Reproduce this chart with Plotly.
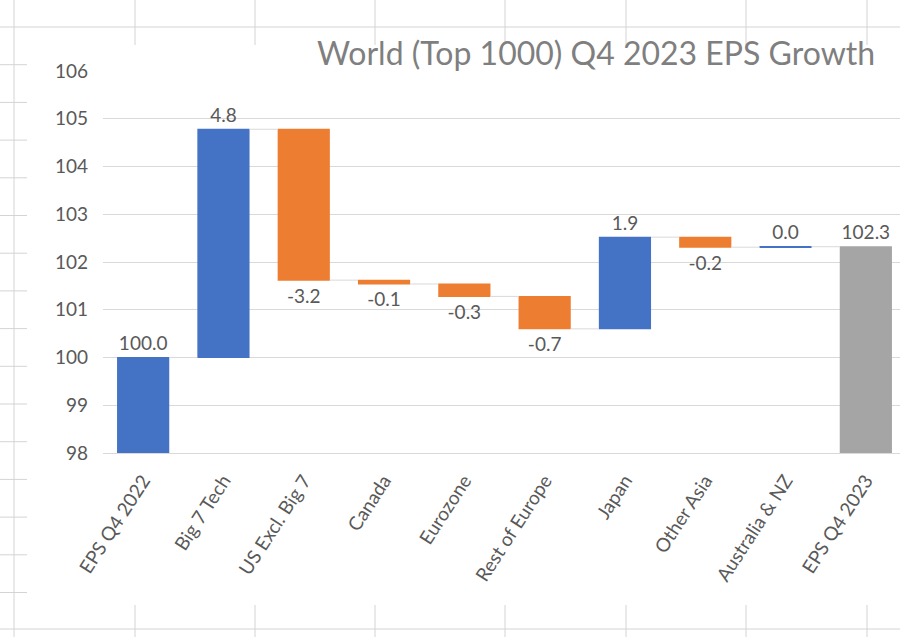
import plotly.graph_objects as go

# EPS bridge: Q4 2022 level, regional contributions, Q4 2023 level
categories = ["EPS Q4 2022", "Big 7 Tech", "US Excl. Big 7", "Canada", "Eurozone",
              "Rest of Europe", "Japan", "Other Asia", "Australia & NZ", "EPS Q4 2023"]
start_value = 100.0
contributions = [4.78, -3.16, -0.08, -0.26, -0.68, 1.92, -0.21, 0.01]

end_value = start_value + sum(contributions)
values = [start_value] + contributions + [end_value]
measures = ["relative"] * (len(values) - 1) + ["total"]
labels = [f"{v:.1f}" for v in values]

y_ticks = [98, 99, 100, 101, 102, 103, 104, 105, 106]

BLUE = "#4472C4"
ORANGE = "#ED7D31"
GREY = "#A5A5A5"
GRID = "#d9d9d9"
SHEET = "#d4d4d4"
FONT = "Lato"

W, H = 900, 637
ML, MR, MT, MB = 103, 0, 71, 184
PW, PH = W - ML - MR, H - MT - MB

fig = go.Figure(go.Waterfall(
    x=categories,
    y=values,
    measure=measures,
    text=labels,
    textposition="outside",
    textfont=dict(family=FONT, size=19, color="#595959"),
    cliponaxis=False,
    increasing=dict(marker=dict(color=BLUE)),
    decreasing=dict(marker=dict(color=ORANGE)),
    totals=dict(marker=dict(color=GREY)),
    connector=dict(mode="between", line=dict(color=GRID, width=1)),
    hoverinfo="skip",
))


# spreadsheet cell borders around the embedded chart box
def px_x(px):
    return (px - ML) / PW


def px_y(py):
    return (H - MB - py) / PH


shapes = []


def sheet_line(x0, y0, x1, y1):
    shapes.append(dict(type="line", xref="paper", yref="paper",
                       x0=px_x(x0), y0=px_y(y0), x1=px_x(x1), y1=px_y(y1),
                       line=dict(color=SHEET, width=1), layer="below"))


sheet_line(14, 0, 14, H)
sheet_line(0, 27, W, 27)
sheet_line(0, 629, W, 629)
for cx in [135, 255, 375, 505, 626, 746, 867]:
    sheet_line(cx, 0, cx, 45)
    sheet_line(cx, 605, cx, H)
row = 27 + 37.7
while row < 610:
    sheet_line(0, row, 27, row)
    row += 37.7

fig.update_layout(
    width=W, height=H,
    margin=dict(l=ML, r=MR, t=MT, b=MB),
    paper_bgcolor="white",
    plot_bgcolor="white",
    showlegend=False,
    waterfallgap=0.35,
    shapes=shapes,
    font=dict(family=FONT, color="#595959"),
    title=dict(
        text="World (Top 1000) Q4 2023 EPS Growth",
        font=dict(family=FONT, size=32, color="#7f7f7f"),
        xref="container", yref="container",
        x=317 / W, xanchor="left",
        y=1 - 54 / H, yanchor="middle",
    ),
    xaxis=dict(
        range=[-0.5, -0.5 + PW / 80.3],
        tickangle=-57,
        tickfont=dict(family=FONT, size=19, color="#595959"),
        showgrid=False,
        showline=True, linecolor=GRID, linewidth=1,
        ticks="",
        ticklabelstandoff=8,
    ),
    yaxis=dict(
        range=[98, 106],
        tickvals=y_ticks,
        ticktext=[str(t) for t in y_ticks],
        tickfont=dict(family=FONT, size=19, color="#595959"),
        showgrid=True, gridcolor=GRID, gridwidth=1,
        zeroline=False,
        showline=False,
        ticks="",
        ticklabelstandoff=14,
    ),
)

fig.write_html("out.html")
